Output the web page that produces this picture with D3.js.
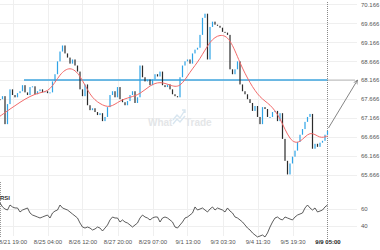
<!DOCTYPE html>
<html>
<head>
<meta charset="utf-8">
<script src="https://cdn.jsdelivr.net/npm/d3@7"></script>
<style>
  html, body { margin: 0; padding: 0; background: #fff; }
  svg { display: block; font-family: "Liberation Sans", Arial, sans-serif; }
</style>
</head>
<body>
<div id="chart"></div>
<script>
const width = 380;
const height = 250;

// candle closes, one per bar (bar index = position on time axis)
const closes = [
  67.66, 67.74, 67.00, 67.53, 67.92, 67.77, 67.71, 67.82, 67.87, 68.03,
  67.84, 67.77, 67.98, 68.00, 67.79, 67.87, 67.92, 67.84, 67.87, 67.82,
  67.84, 68.13, 68.32, 68.66, 68.92, 69.08, 68.87, 68.76, 68.60, 68.71,
  68.55, 68.39, 67.92, 67.74, 68.05, 67.50, 67.37, 67.42, 67.32, 67.24,
  67.29, 67.08, 67.19, 67.45, 67.77, 67.87, 67.71, 67.98, 67.66, 67.58,
  67.50, 67.61, 67.77, 67.87, 67.56, 67.71, 68.55, 68.24, 68.13, 68.18,
  68.03, 68.18, 68.32, 68.26, 68.39, 68.03, 67.98, 68.05, 67.92, 67.79,
  67.74, 67.71, 68.24, 68.55, 68.66, 68.71, 68.60, 68.87, 68.97, 69.02,
  69.36, 69.81, 69.92, 68.71, 69.57, 69.71, 69.63, 69.60, 69.55, 69.44,
  69.42, 69.36, 68.45, 68.32, 68.45, 68.66, 68.05, 67.87, 67.79, 67.66,
  67.56, 67.35, 67.48, 67.19, 67.00, 67.45, 67.40, 67.19, 67.19, 67.32,
  67.35, 67.08, 67.29, 66.61, 66.03, 65.67, 65.96, 66.14, 66.30, 66.53,
  66.72, 66.87, 67.06, 67.19, 67.27, 66.35, 66.48, 66.40, 66.51, 66.56,
  66.72, 66.82
];

// moving average (red line), read at every 4th bar
const maIndex = [0, 4, 8, 12, 16, 20, 24, 28, 32, 36, 40, 44, 48, 52, 56, 60, 64,
  68, 72, 76, 80, 84, 88, 92, 96, 100, 104, 108, 112, 116, 120, 124, 128, 131];
const maValues = [67.21, 67.40, 67.58, 67.74, 67.84, 67.87, 68.34, 68.53, 68.32, 67.74,
  67.53, 67.42, 67.63, 67.71, 67.79, 68.03, 68.13, 68.03, 67.95, 68.39,
  68.71, 69.21, 69.39, 69.29, 68.60, 68.08, 67.69, 67.53, 67.19, 66.53,
  66.48, 66.85, 66.61, 66.69];

// RSI, one per bar
const rsi = [
  67.1, 62.4, 60.0, 58.8, 64.7, 62.4, 61.2, 61.2, 56.5, 58.8,
  60.0, 61.2, 55.3, 52.9, 51.8, 50.6, 49.4, 50.6, 51.8, 52.9,
  49.4, 55.3, 57.6, 58.8, 64.7, 61.2, 60.0, 58.8, 56.5, 54.1,
  51.8, 49.4, 43.5, 38.8, 37.6, 38.8, 37.6, 35.3, 36.5, 38.8,
  37.6, 34.1, 37.6, 41.2, 47.1, 50.6, 49.4, 49.4, 44.7, 47.1,
  44.7, 43.5, 41.2, 38.8, 41.2, 43.5, 49.4, 52.9, 50.6, 49.4,
  47.1, 49.4, 50.6, 50.6, 44.7, 49.4, 50.6, 49.4, 47.1, 44.7,
  38.8, 37.6, 41.2, 44.7, 49.4, 50.6, 52.9, 55.3, 62.4, 58.8,
  60.0, 61.2, 58.8, 56.5, 60.0, 62.4, 58.8, 61.2, 60.0, 58.8,
  56.5, 61.2, 57.6, 55.3, 50.6, 49.4, 47.1, 44.7, 41.2, 37.6,
  35.3, 31.8, 29.4, 27.1, 28.2, 29.4, 27.1, 31.8, 38.8, 44.7,
  49.4, 50.6, 48.2, 47.1, 50.6, 49.4, 48.2, 47.1, 50.6, 52.9,
  54.1, 55.3, 61.2, 64.7, 61.2, 58.8, 61.2, 56.5, 57.6, 58.8,
  62.4, 64.7
];

// time axis labels at bar positions
const timeIndex = [5, 19, 33, 47, 61, 75, 89, 103, 117, 131];
const timeLabels = ["8/21 19:00", "8/25 04:00", "8/26 12:00", "8/27 20:00", "8/29 07:00",
  "9/1 13:00", "9/3 03:30", "9/4 11:30", "9/5 19:30", "9/9 05:00"];

const priceTicks = [65.666, 66.166, 66.666, 67.166, 67.666, 68.166, 68.666, 69.166, 69.666, 70.166];
const rsiTicks = [40, 60];
const targetLevel = 68.166;
const arrowBars = 12; // projection length in bars

const lastI = closes.length - 1;

const x = d3.scaleLinear().domain([0, lastI]).range([0, 327.5]);
const y = d3.scaleLinear().domain([65.666, 70.166]).range([174.6, 4.4]);
const yR = d3.scaleLinear().domain([40, 60]).range([226, 209]);

const svg = d3.select("#chart").append("svg")
  .attr("width", width)
  .attr("height", height);

const gridRight = 357;
const grid = svg.append("g").attr("stroke", "#efefef").attr("stroke-width", 1);

// horizontal grid, price and rsi
grid.selectAll(".hp").data(priceTicks).join("line")
  .attr("x1", 0).attr("x2", gridRight)
  .attr("y1", d => Math.round(y(d)) + 0.5).attr("y2", d => Math.round(y(d)) + 0.5);
grid.selectAll(".hr").data(rsiTicks).join("line")
  .attr("x1", 0).attr("x2", gridRight)
  .attr("y1", d => Math.round(yR(d)) + 0.5).attr("y2", d => Math.round(yR(d)) + 0.5);
// vertical grid
grid.selectAll(".v").data(timeIndex.slice(0, -1)).join("line")
  .attr("x1", d => Math.round(x(d)) + 0.5).attr("x2", d => Math.round(x(d)) + 0.5)
  .attr("y1", 0).attr("y2", 236);

// watermark
const wm = svg.append("g").attr("fill", "#e4e6e8")
  .attr("font-size", 10).attr("font-weight", "bold");
wm.append("text").attr("x", 148).attr("y", 126).text("What");
wm.append("text").attr("x", 185).attr("y", 126).text("Trade");
wm.append("path")
  .attr("d", "M173,120 L177,115 L180,118 L185,110 M182,110 L185,110 L185,113 M173,124 L177,119 L180,122 L185,116")
  .attr("fill", "none").attr("stroke", "#d8e6f0").attr("stroke-width", 1.4);

// rsi left marker line
svg.append("line")
  .attr("x1", 0.5).attr("x2", 0.5).attr("y1", 182).attr("y2", 237)
  .attr("stroke", "#999").attr("stroke-dasharray", "1,1");

// last bar vertical dotted line
svg.append("line")
  .attr("x1", Math.round(x(lastI)) - 0.5).attr("x2", Math.round(x(lastI)) - 0.5)
  .attr("y1", 2).attr("y2", 240)
  .attr("stroke", "#888").attr("stroke-dasharray", "1,1");

// target level line
svg.append("line")
  .attr("x1", 24).attr("x2", x(lastI))
  .attr("y1", y(targetLevel)).attr("y2", y(targetLevel))
  .attr("stroke", "#3ea5de").attr("stroke-width", 1.6);
svg.append("line")
  .attr("x1", x(lastI)).attr("x2", x(lastI + arrowBars) - 2)
  .attr("y1", y(targetLevel)).attr("y2", y(targetLevel))
  .attr("stroke", "#777").attr("stroke-dasharray", "1,1");

// candles: body from previous close to close
const candles = svg.append("g");
candles.selectAll("rect").data(closes).join("rect")
  .attr("x", (d, i) => x(i) - 0.6)
  .attr("width", 1.2)
  .attr("y", (d, i) => y(Math.max(d, i ? closes[i - 1] : d)))
  .attr("height", (d, i) => Math.max(1, Math.abs(y(d) - y(i ? closes[i - 1] : d))))
  .attr("fill", (d, i) => (i && d >= closes[i - 1]) ? "#2fa4e7" : "#2b2b2b");

// moving average
svg.append("path")
  .datum(maValues)
  .attr("fill", "none")
  .attr("stroke", "#f26b6b")
  .attr("stroke-width", 1)
  .attr("d", d3.line().x((d, i) => x(maIndex[i])).y(d => y(d)).curve(d3.curveBasis));

// projection arrow
svg.append("defs").append("marker")
  .attr("id", "ah").attr("viewBox", "0 0 10 10").attr("refX", 9).attr("refY", 5)
  .attr("markerWidth", 6).attr("markerHeight", 6).attr("orient", "auto")
  .append("path").attr("d", "M0,1 L9,5 L0,9").attr("fill", "none").attr("stroke", "#666").attr("stroke-width", 1.2);
svg.append("line")
  .attr("x1", x(lastI) + 1).attr("y1", y(closes[lastI]) - 3)
  .attr("x2", x(lastI + arrowBars)).attr("y2", y(targetLevel))
  .attr("stroke", "#666").attr("stroke-width", 0.8)
  .attr("marker-end", "url(#ah)");

// rsi line
svg.append("path")
  .datum(rsi)
  .attr("fill", "none")
  .attr("stroke", "#333")
  .attr("stroke-width", 0.8)
  .attr("d", d3.line().x((d, i) => x(i)).y(d => yR(d)));

svg.append("text")
  .attr("x", 0).attr("y", 200)
  .attr("font-size", 6).attr("font-weight", "bold").attr("fill", "#333")
  .text("RSI");

// right axes
const axisStyle = g => {
  g.select(".domain").remove();
  g.selectAll("text").attr("fill", "#555").attr("font-size", 6)
    .attr("font-family", "Liberation Sans, Arial, sans-serif");
};
svg.append("g")
  .attr("transform", `translate(${gridRight},0)`)
  .call(d3.axisRight(y).tickValues(priceTicks).tickFormat(d3.format(".3f")).tickSize(0).tickPadding(4))
  .call(axisStyle);
svg.append("g")
  .attr("transform", `translate(${gridRight},0)`)
  .call(d3.axisRight(yR).tickValues(rsiTicks).tickSize(0).tickPadding(4))
  .call(axisStyle);

// time axis
const xAxis = svg.append("g")
  .attr("transform", "translate(0,238)")
  .call(d3.axisBottom(x).tickValues(timeIndex).tickFormat((d, i) => timeLabels[i]).tickSize(0).tickPadding(2))
  .call(axisStyle);
xAxis.selectAll(".tick:last-of-type text").attr("fill", "#222").attr("font-weight", "bold");
</script>
</body>
</html>
